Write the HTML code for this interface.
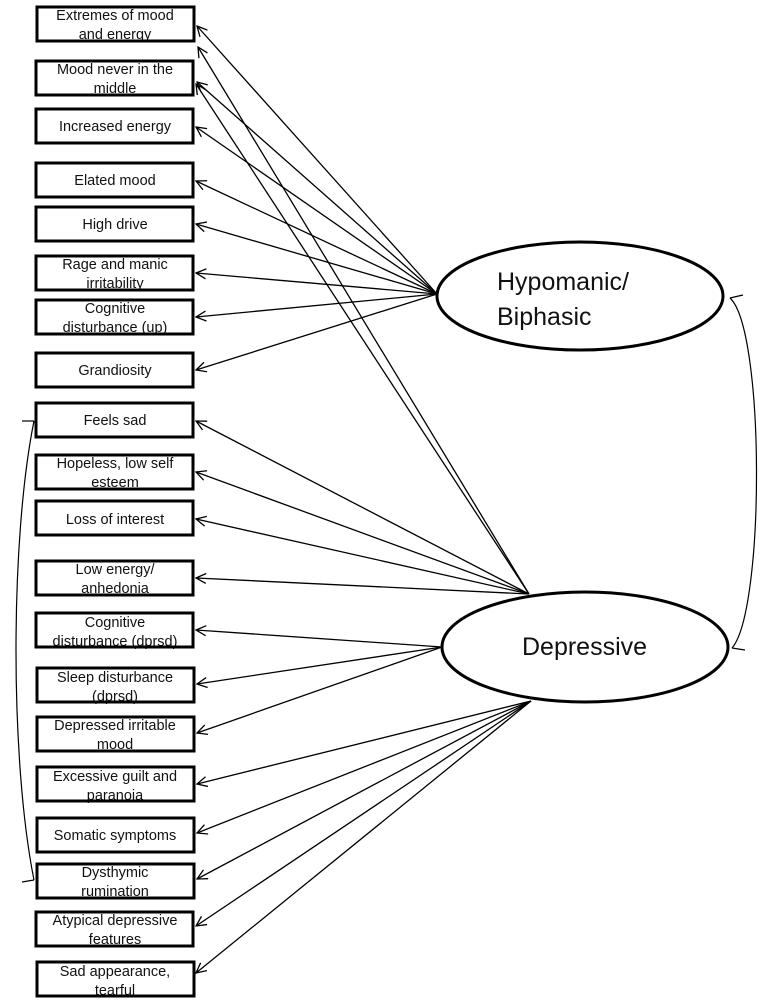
<!DOCTYPE html>
<html><head><meta charset="utf-8"><style>
html,body{margin:0;padding:0;background:#fff;}
svg{display:block;}
text{font-family:"Liberation Sans",sans-serif;font-size:14.5px;fill:#111;}
</style></head><body>
<svg width="763" height="1003" viewBox="0 0 763 1003" xmlns="http://www.w3.org/2000/svg">
<defs>
<marker id="a" markerWidth="12" markerHeight="12" refX="11" refY="6" orient="auto" markerUnits="userSpaceOnUse">
<path d="M1,1 L11,6 L1,11" fill="none" stroke="#000" stroke-width="1.3"/>
</marker>
</defs>
<g stroke="#000" stroke-width="1.3" fill="none" marker-end="url(#a)">
<line x1="437" y1="294" x2="197" y2="26"/>
<line x1="437" y1="294" x2="197" y2="82"/>
<line x1="437" y1="294" x2="196" y2="127"/>
<line x1="437" y1="294" x2="196" y2="181"/>
<line x1="437" y1="294" x2="196" y2="224"/>
<line x1="437" y1="294" x2="196" y2="273"/>
<line x1="437" y1="294" x2="196" y2="317"/>
<line x1="437" y1="294" x2="196" y2="370"/>
<line x1="529" y1="594" x2="198" y2="47"/>
<line x1="529" y1="594" x2="196" y2="84"/>
<line x1="529" y1="594" x2="196" y2="421"/>
<line x1="529" y1="594" x2="196" y2="472"/>
<line x1="529" y1="594" x2="196" y2="519"/>
<line x1="529" y1="594" x2="196" y2="578"/>
<line x1="442" y1="647" x2="196" y2="630"/>
<line x1="442" y1="647" x2="197" y2="684"/>
<line x1="442" y1="647" x2="197" y2="733"/>
<line x1="531" y1="701" x2="197" y2="784"/>
<line x1="531" y1="701" x2="197" y2="833"/>
<line x1="531" y1="701" x2="197" y2="879"/>
<line x1="531" y1="701" x2="196" y2="926"/>
<line x1="531" y1="701" x2="196" y2="973"/>
</g>
<g stroke="#000" stroke-width="1.2" fill="none">
<path d="M730,298 C765,330 765,610 732,648"/>
<path d="M730,298 L743,295"/><path d="M732,648 L745,650"/>
<path d="M34,421 C10,540 10,760 34,880"/>
<path d="M34,421 L22,421"/><path d="M34,880 L22,882"/>
</g>
<ellipse cx="580" cy="296" rx="143" ry="54" fill="#fff" stroke="#000" stroke-width="3"/>
<ellipse cx="585" cy="647" rx="143" ry="55" fill="#fff" stroke="#000" stroke-width="3"/>
<text x="497" y="290" style="font-size:25px">Hypomanic/</text>
<text x="497" y="325" style="font-size:25px">Biphasic</text>
<text x="522" y="655" style="font-size:25px">Depressive</text>
<g text-anchor="middle">
<text x="115" y="20">Extremes of mood</text><text x="115" y="39">and energy</text>
<text x="115" y="74">Mood never in the</text><text x="115" y="93">middle</text>
<text x="115" y="131">Increased energy</text>
<text x="115" y="185">Elated mood</text>
<text x="115" y="229">High drive</text>
<text x="115" y="269">Rage and manic</text><text x="115" y="288">irritability</text>
<text x="115" y="313">Cognitive</text><text x="115" y="332">disturbance (up)</text>
<text x="115" y="375">Grandiosity</text>
<text x="115" y="425">Feels sad</text>
<text x="115" y="468">Hopeless, low self</text><text x="115" y="487">esteem</text>
<text x="115" y="524">Loss of interest</text>
<text x="115" y="574">Low energy/</text><text x="115" y="593">anhedonia</text>
<text x="115" y="627">Cognitive</text><text x="115" y="646">disturbance (dprsd)</text>
<text x="115" y="682">Sleep disturbance</text><text x="115" y="701">(dprsd)</text>
<text x="115" y="730">Depressed irritable</text><text x="115" y="749">mood</text>
<text x="115" y="781">Excessive guilt and</text><text x="115" y="800">paranoia</text>
<text x="115" y="840">Somatic symptoms</text>
<text x="115" y="877">Dysthymic</text><text x="115" y="896">rumination</text>
<text x="115" y="925">Atypical depressive</text><text x="115" y="944">features</text>
<text x="115" y="976">Sad appearance,</text><text x="115" y="995">tearful</text>
</g>
<g fill="none" stroke="#000" stroke-width="3">
<rect x="37" y="7" width="157" height="34"/>
<rect x="36" y="61" width="157" height="34"/>
<rect x="36" y="109" width="157" height="34"/>
<rect x="36" y="163" width="157" height="34"/>
<rect x="36" y="207" width="157" height="34"/>
<rect x="36" y="256" width="157" height="34"/>
<rect x="36" y="300" width="157" height="34"/>
<rect x="36" y="353" width="157" height="34"/>
<rect x="36" y="403" width="157" height="34"/>
<rect x="36" y="455" width="157" height="34"/>
<rect x="36" y="501" width="157" height="34"/>
<rect x="36" y="561" width="157" height="34"/>
<rect x="36" y="613" width="157" height="34"/>
<rect x="37" y="668" width="157" height="34"/>
<rect x="37" y="717" width="157" height="34"/>
<rect x="37" y="767" width="157" height="34"/>
<rect x="37" y="818" width="157" height="34"/>
<rect x="37" y="864" width="157" height="34"/>
<rect x="36" y="912" width="157" height="34"/>
<rect x="37" y="962" width="157" height="34"/>
</g>
</svg>
</body></html>
